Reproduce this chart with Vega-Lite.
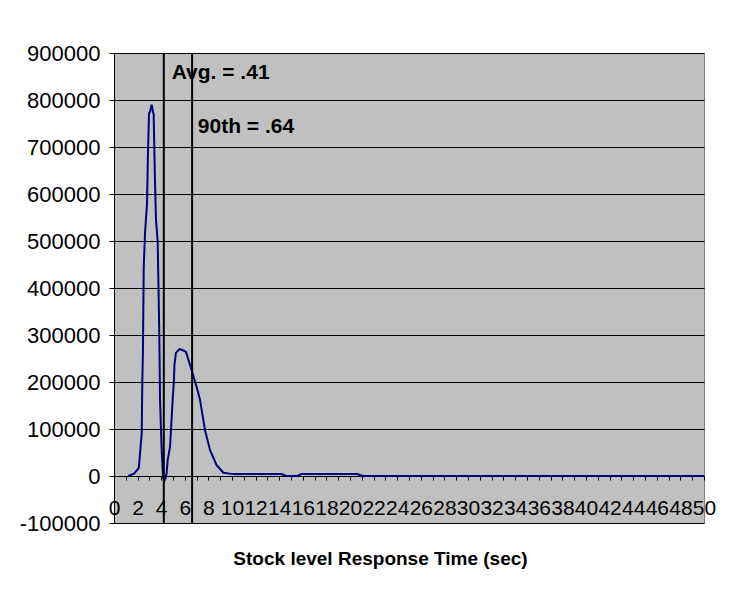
{
  "$schema": "https://vega.github.io/schema/vega-lite/v6.json",
  "width": 590,
  "height": 470,
  "autosize": {"type": "none"},
  "padding": {"left": 114, "top": 53, "right": 38, "bottom": 73},
  "background": "white",
  "config": {
    "view": {"fill": "#C0C0C0", "stroke": "#808080", "strokeWidth": 1},
    "font": "Liberation Sans",
    "axis": {"labelOverlap": false, "labelSeparation": 0}
  },
  "datasets": {
    "curve": [
      {"x": 1.2, "v": 0},
      {"x": 1.7, "v": 5000},
      {"x": 2.1, "v": 17000},
      {"x": 2.35, "v": 91000},
      {"x": 2.4, "v": 204000},
      {"x": 2.45, "v": 260000},
      {"x": 2.52, "v": 445000},
      {"x": 2.63, "v": 517000},
      {"x": 2.8, "v": 580000},
      {"x": 2.88, "v": 690000},
      {"x": 2.97, "v": 772000},
      {"x": 3.05, "v": 775000},
      {"x": 3.19, "v": 790000},
      {"x": 3.3, "v": 775000},
      {"x": 3.36, "v": 770000},
      {"x": 3.47, "v": 630000},
      {"x": 3.56, "v": 545000},
      {"x": 3.7, "v": 500000},
      {"x": 3.84, "v": 304000},
      {"x": 3.9, "v": 162000},
      {"x": 4.03, "v": 62000},
      {"x": 4.15, "v": 0},
      {"x": 4.24, "v": -12000},
      {"x": 4.35, "v": -5000},
      {"x": 4.46, "v": 6000},
      {"x": 4.55, "v": 34000},
      {"x": 4.75, "v": 62000},
      {"x": 4.97, "v": 162000},
      {"x": 5.08, "v": 204000},
      {"x": 5.12, "v": 236000},
      {"x": 5.25, "v": 262000},
      {"x": 5.54, "v": 270000},
      {"x": 5.8, "v": 268000},
      {"x": 6.1, "v": 264000},
      {"x": 6.58, "v": 225000},
      {"x": 7.0, "v": 190000},
      {"x": 7.29, "v": 162000},
      {"x": 7.71, "v": 98000},
      {"x": 8.14, "v": 55000},
      {"x": 8.7, "v": 23000},
      {"x": 9.27, "v": 7000},
      {"x": 10.1, "v": 4000},
      {"x": 14.2, "v": 4000},
      {"x": 14.6, "v": 0},
      {"x": 15.5, "v": 0},
      {"x": 15.9, "v": 4000},
      {"x": 20.6, "v": 4000},
      {"x": 21.1, "v": 0},
      {"x": 50, "v": 0}
    ],
    "markers": [
      {"x": 4.22, "label": "Avg."},
      {"x": 6.62, "label": "90th"}
    ],
    "notes": [
      {"x": 4.89, "v": 857000, "label": "Avg. = .41"},
      {"x": 7.1, "v": 742500, "label": "90th = .64"}
    ]
  },
  "resolve": {"axis": {"x": "independent"}},
  "layer": [
    {
      "data": {"name": "curve"},
      "mark": {"type": "line", "color": "#000080", "strokeWidth": 2},
      "encoding": {
        "x": {
          "field": "x",
          "type": "quantitative",
          "scale": {"domain": [0, 50], "nice": false, "zero": false},
          "axis": {
            "orient": "bottom",
            "offset": -47,
            "values": [0,2,4,6,8,10,12,14,16,18,20,22,24,26,28,30,32,34,36,38,40,42,44,46,48,50],
            "labelExpr": "'' + datum.value",
            "labelOverlap": false,
            "labelSeparation": 0,
            "labelFlush": false,
            "labelBound": false,
            "labelFontSize": 21,
            "labelColor": "black",
            "labelPadding": 17,
            "tickSize": 4,
            "tickColor": "black",
            "domainColor": "black",
            "grid": false,
            "title": "Stock level Response Time (sec)",
            "titleFontSize": 19,
            "titleFontWeight": "bold",
            "titleColor": "black",
            "titleX": 266,
            "titleY": 82,
            "titleAlign": "center",
            "titleBaseline": "middle"
          }
        },
        "y": {
          "field": "v",
          "type": "quantitative",
          "scale": {"domain": [-100000, 900000], "nice": false, "zero": false},
          "axis": {
            "values": [-100000, 0, 100000, 200000, 300000, 400000, 500000, 600000, 700000, 800000, 900000],
            "labelExpr": "'' + datum.value",
            "labelFontSize": 22,
            "labelColor": "black",
            "labelPadding": 9,
            "tickSize": 5,
            "tickColor": "black",
            "domainColor": "black",
            "grid": true,
            "gridColor": "black",
            "gridOpacity": 1,
            "gridWidth": 1,
            "title": null
          }
        }
      }
    },
    {
      "data": {"name": "markers"},
      "mark": {"type": "rule", "color": "black", "strokeWidth": 2},
      "encoding": {
        "x": {
          "field": "x",
          "type": "quantitative",
          "axis": {
            "orient": "bottom",
            "offset": -47,
            "values": [1,3,5,7,9,11,13,15,17,19,21,23,25,27,29,31,33,35,37,39,41,43,45,47,49],
            "labels": false,
            "domain": false,
            "grid": false,
            "tickSize": 4,
            "tickColor": "black",
            "title": null
          }
        }
      }
    },
    {
      "data": {"name": "notes"},
      "mark": {"type": "text", "align": "left", "baseline": "middle", "fontSize": 21, "fontWeight": "bold", "color": "black", "font": "Liberation Sans"},
      "encoding": {
        "x": {"field": "x", "type": "quantitative", "axis": null},
        "y": {"field": "v", "type": "quantitative"},
        "text": {"field": "label"}
      }
    }
  ]
}
